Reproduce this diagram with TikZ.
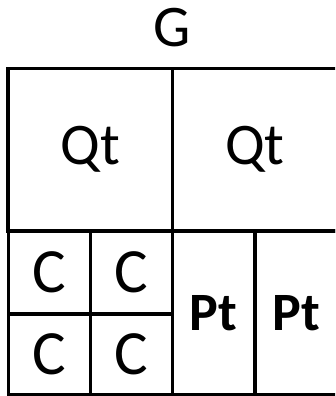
\documentclass[tikz,border=0pt]{standalone}
\usepackage{fontspec}
\setmainfont{Carlito}
\begin{document}
\begin{tikzpicture}[x=1pt,y=-1pt,line width=3.1pt,
  cell/.style={draw,inner sep=0pt,outer sep=0pt},
  big/.style={font=\fontsize{59}{60}\selectfont},
  small/.style={font=\fontsize{63}{64}\selectfont},
  tall/.style={font=\fontsize{54}{58}\selectfont\bfseries}]
\useasboundingbox (0,0) rectangle (335,396);
\clip (0,0) rectangle (335,396);

\node[big] (title) at (172,28) {G};

\node[cell,big,minimum width=164.5pt,minimum height=162.5pt] (qtleft) at (90.25,149.75) {Qt};
\node[cell,big,minimum width=165pt,minimum height=162.5pt] (qtright) at (255,149.75) {Qt};

\node[cell,small,minimum width=82pt,minimum height=83pt] (ca) at (49.25,272.5) {C};
\node[cell,small,minimum width=82.5pt,minimum height=83pt] (cb) at (131.5,272.5) {C};
\node[cell,small,minimum width=82pt,minimum height=81pt] (cc) at (49.25,354.5) {C};
\node[cell,small,minimum width=82.5pt,minimum height=81pt] (cd) at (131.5,354.5) {C};

\node[cell,tall,minimum width=82.5pt,minimum height=164pt] (pta) at (213.75,313) {Pt};
\node[cell,tall,minimum width=82.5pt,minimum height=164pt] (ptb) at (296.25,313) {Pt};
\end{tikzpicture}
\end{document}
